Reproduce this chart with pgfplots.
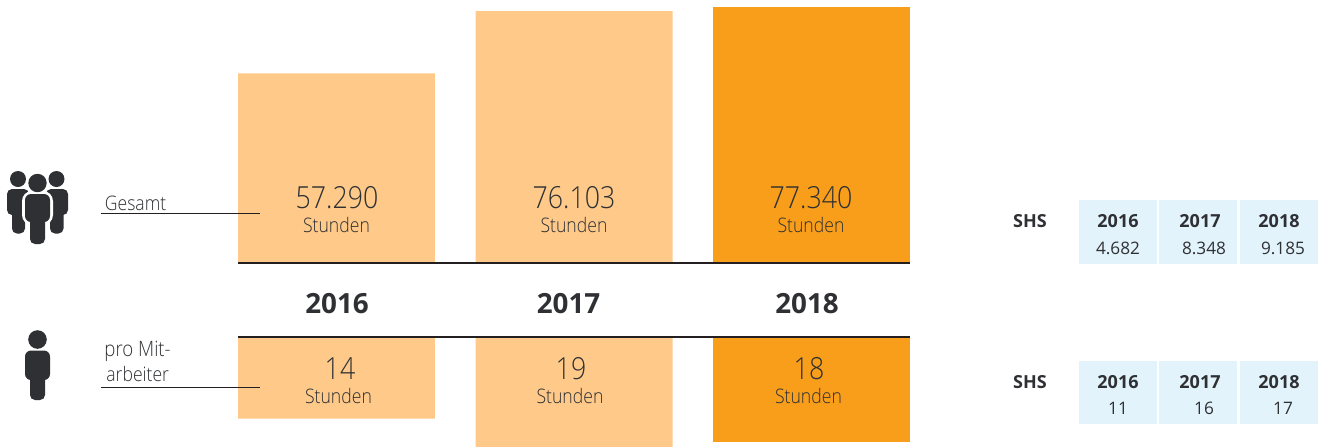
\documentclass[border=0pt]{standalone}
\usepackage{pgfplots}
\usepackage{fontspec}
\pgfplotsset{compat=1.18}
\setmainfont{Open Sans}
\newfontfamily\lightf[FakeStretch=0.88]{Open Sans Light}
\definecolor{lightbar}{HTML}{FEC989}
\definecolor{darkbar}{HTML}{F89E1B}
\definecolor{cellblue}{HTML}{E2F3FB}
\definecolor{ink}{HTML}{2E3033}
\definecolor{rule}{HTML}{231F20}
\pgfplotstableread{
x y
0 57290
1 76103
}\topLight
\pgfplotstableread{
x y
2 77340
}\topDark
\pgfplotstableread{
x y
0 14
1 19
}\botLight
\pgfplotstableread{
x y
2 18
}\botDark
\pgfplotsset{panel/.style={
  scale only axis, width=336pt,
  xmin=-0.4147, xmax=2.4147,
  ytick=\empty, xtick=\empty,
  axis y line=none,
  ymin=0,
  ybar, bar width=98.5pt, bar shift=0pt,
  axis on top,
  axis line style={-, color=rule, line width=1.3pt},
  clip=true,
}}
\newcommand{\bigv}[3]{\node[anchor=base,inner sep=0,text=ink] at (#1,#2) {\lightf\fontsize{15.2}{17}\selectfont #3};}
\newcommand{\stu}[2]{\node[anchor=base,inner sep=0,text=ink] at (#1,#2) {\lightf\fontsize{10}{12}\selectfont Stunden};}
\begin{document}
\begin{tikzpicture}
\begin{scope}[x=.5pt,y=-.5pt]
\path[use as bounding box] (0,0) rectangle (1323,446);
\end{scope}
\begin{axis}[panel, at={(119pt,-131.5pt)}, anchor=south west, height=131.5pt,
  ymax=79500, axis x line*=bottom, x axis line style={-, color=rule, line width=1.3pt}]
\addplot[draw=none, fill=lightbar] table[x=x,y=y] {\topLight};
\addplot[draw=none, fill=darkbar] table[x=x,y=y] {\topDark};
\end{axis}
\begin{axis}[panel, at={(119pt,-168.5pt)}, anchor=north west, height=54.5pt,
  y dir=reverse, ymax=18.7, axis x line*=top, x axis line style={-, color=rule, line width=1.3pt}]
\addplot[draw=none, fill=lightbar] table[x=x,y=y] {\botLight};
\addplot[draw=none, fill=darkbar] table[x=x,y=y] {\botDark};
\end{axis}
\begin{scope}[x=.5pt,y=-.5pt]
% leader lines and labels
\draw[rule,line width=.45pt] (101,213) -- (260,213);
\draw[rule,line width=.45pt] (101,387.3) -- (260,387.3);
\node[anchor=base west,inner sep=0,text=ink] at (104.5,210) {\lightf\fontsize{10}{12}\selectfont Gesamt};
\node[anchor=base west,inner sep=0,text=ink] at (104,356) {\lightf\fontsize{10.6}{12}\selectfont pro Mit-};
\node[anchor=base west,inner sep=0,text=ink] at (106,381) {\lightf\fontsize{10}{12}\selectfont arbeiter};
% bar texts
\bigv{337}{208}{57.290}\stu{336.5}{232}
\bigv{574}{208}{76.103}\stu{574}{232}
\bigv{811}{208}{77.340}\stu{811}{232}
\bigv{340}{379}{14}\stu{338.5}{403}
\bigv{571}{379}{19}\stu{570}{403}
\bigv{809}{379}{18}\stu{808.5}{403}
% years
\node[anchor=base,inner sep=0,text=ink] at (337,313) {\fontsize{13.9}{15}\selectfont\bfseries 2016};
\node[anchor=base,inner sep=0,text=ink] at (568.5,313) {\fontsize{13.9}{15}\selectfont\bfseries 2017};
\node[anchor=base,inner sep=0,text=ink] at (807,313) {\fontsize{13.9}{15}\selectfont\bfseries 2018};
% group icon
\fill[ink] (18,179) circle (8);
\fill[ink] (56.5,179) circle (8);
\fill[ink,rounded corners=2.5] (7,189) rectangle (29,215);
\fill[ink,rounded corners=2.5] (12,205) rectangle (25,233.5);
\fill[ink,rounded corners=2.5] (46,189) rectangle (68,215);
\fill[ink,rounded corners=2.5] (50,205) rectangle (63.5,233.5);
\fill[white,rounded corners=5] (22,191) rectangle (53,225);
\fill[ink] (37.5,183) circle (9.2);
\fill[ink,rounded corners=3] (25,194) rectangle (50,222);
\fill[ink,rounded corners=2.5] (30,210) rectangle (45,244);
% single icon
\fill[ink] (37.5,339.5) circle (9.3);
\fill[ink,rounded corners=3] (25,350.5) rectangle (50,380);
\fill[ink,rounded corners=2.5] (30,370) rectangle (45,400);
% SHS tables
\foreach \xa/\xb in {1079/1157,1159/1237,1240/1318}{
  \fill[cellblue] (\xa,200) rectangle (\xb,264);
  \fill[cellblue] (\xa,361) rectangle (\xb,424);
}
\foreach \yb/\yv/\a/\b/\c in {227/254/4.682/8.348/9.185,388/414/11/16/17}{
  \node[anchor=base,inner sep=0,text=ink] at (1030,\yb) {\fontsize{9}{11}\selectfont\bfseries SHS};
  \node[anchor=base,inner sep=0,text=ink] at (1118,\yb) {\fontsize{9}{11}\selectfont\bfseries 2016};
  \node[anchor=base,inner sep=0,text=ink] at (1200,\yb) {\fontsize{9}{11}\selectfont\bfseries 2017};
  \node[anchor=base,inner sep=0,text=ink] at (1279,\yb) {\fontsize{9}{11}\selectfont\bfseries 2018};
  \node[anchor=base,inner sep=0,text=ink] at (1118,\yv) {\fontsize{8.6}{11}\selectfont \a};
  \node[anchor=base,inner sep=0,text=ink] at (1204,\yv) {\fontsize{8.6}{11}\selectfont \b};
  \node[anchor=base,inner sep=0,text=ink] at (1283,\yv) {\fontsize{8.6}{11}\selectfont \c};
}
\end{scope}
\end{tikzpicture}
\end{document}
